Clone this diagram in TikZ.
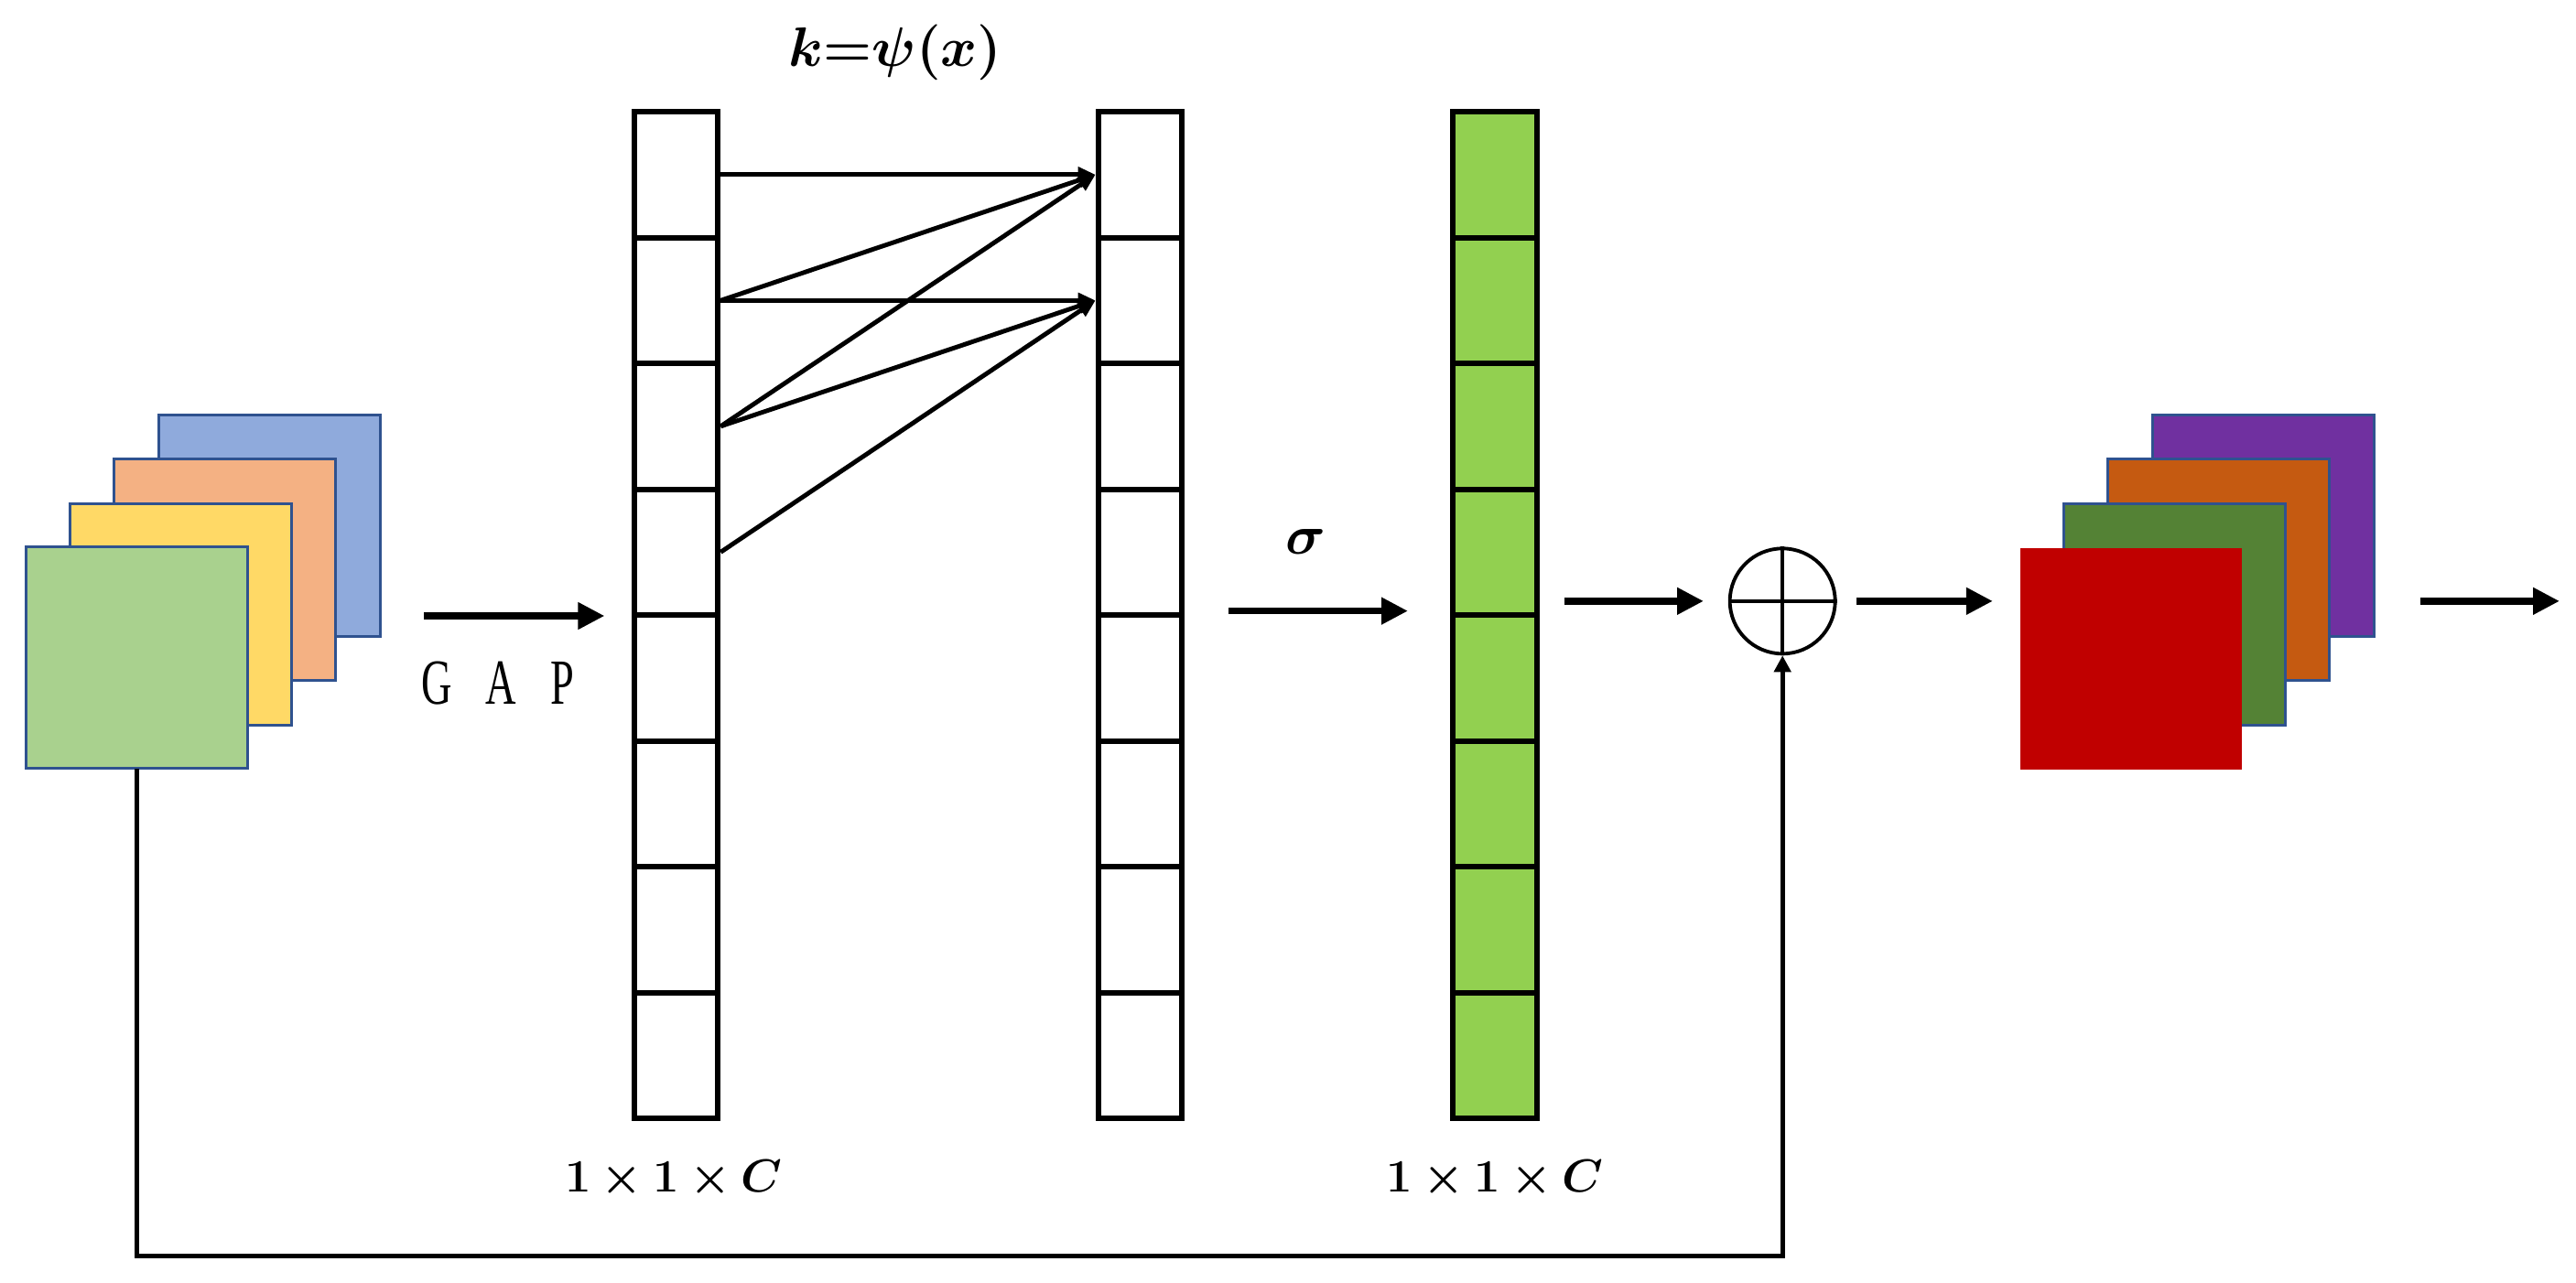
\documentclass[tikz,border=0pt]{standalone}
\usepackage{fontspec}
\usepackage{amsmath}
\usepackage{bm}
\newfontfamily\gapfont{Liberation Serif}
\usetikzlibrary{arrows.meta}
\definecolor{fborder}{HTML}{2F528F}
\definecolor{fblue}{HTML}{8FAADC}
\definecolor{forange}{HTML}{F4B183}
\definecolor{fyellow}{HTML}{FFD966}
\definecolor{fgreen}{HTML}{A9D18E}
\definecolor{cgreen}{HTML}{92D050}
\definecolor{opurple}{HTML}{7030A0}
\definecolor{oorange}{HTML}{C55A11}
\definecolor{ogreen}{HTML}{548235}
\definecolor{ored}{HTML}{C00000}
\begin{document}
\begin{tikzpicture}[x=0.017946cm,y=-0.017946cm,
  fmap/.style={draw=fborder, line width=0.9pt, minimum width=2.42cm, minimum height=2.42cm, inner sep=0pt, outer sep=0pt},
  cell/.style={draw=black, line width=1.7pt, minimum width=0.915cm, minimum height=1.375cm, inner sep=0pt},
  bigarrow/.style={line width=2.2pt, -{Triangle[length=0.29cm,width=0.28cm]}},
  fan/.style={line width=1.4pt, -{Triangle[length=0.19cm,width=0.16cm]}},
  lbl/.style={inner sep=0pt, font=\fontsize{15}{17}\selectfont}]
\useasboundingbox (0,0) rectangle (1568,781);
% input feature maps
\node[fmap, fill=fblue] (in4) at (164,320) {};
\node[fmap, fill=forange] (in3) at (137,347) {};
\node[fmap, fill=fyellow] (in2) at (110,374) {};
\node[fmap, fill=fgreen] (in1) at (83.5,400.5) {};
% GAP arrow
\coordinate (gapS) at (258,375);
\coordinate (gapE) at (368,375);
\draw[bigarrow] (gapS) -- (gapE);
\node[inner sep=0pt, font=\gapfont\fontsize{20}{22}\selectfont] (gap) at (303,416) {\scalebox{0.66}[1]{G\hspace{0.8em}A\hspace{0.8em}P}};
% columns
\foreach \i in {1,...,8} {
  \node[cell] (a\i) at (411.5, {68+76.625*(\i-0.5)}) {};
  \node[cell] (b\i) at (694, {68+76.625*(\i-0.5)}) {};
  \node[cell, fill=cgreen] (c\i) at (910, {68+76.625*(\i-0.5)}) {};
}
% fan arrows
\draw[fan] (a1.east) -- (b1.west);
\draw[fan] (a2.east) -- (b1.west);
\draw[fan] (a2.east) -- (b2.west);
\draw[fan] (a3.east) -- (b1.west);
\draw[fan] (a3.east) -- (b2.west);
\draw[fan] (a4.east) -- (b2.west);
\node[lbl, font=\fontsize{16}{18}\selectfont] (kpsi) at (545,32) {$\bm{k{=}\psi(x)}$};
% sigma
\node[lbl, font=\fontsize{17}{19}\selectfont] (sig) at (795,330) {$\bm{\sigma}$};
\coordinate (sigS) at (748,372);
\coordinate (sigE) at (857,372);
\draw[bigarrow] (sigS) -- (sigE);
% labels under columns
\node[lbl] (dim1) at (410,718) {$\bm{1\times 1\times C}$};
\node[lbl] (dim2) at (910,718) {$\bm{1\times 1\times C}$};
% plus
\node[draw, circle, line width=1.1pt, minimum size=1.15cm, inner sep=0pt] (plus) at (1085,366) {};
\draw[line width=1.1pt] (plus.north) -- (plus.south) (plus.west) -- (plus.east);
\coordinate (cS) at (952,366);
\coordinate (cE) at (1037,366);
\draw[bigarrow] (cS) -- (cE);
\coordinate (pS) at (1130,366);
\coordinate (pE) at (1213,366);
\draw[bigarrow] (pS) -- (pE);
% output maps
\node[fmap, fill=opurple] (out4) at (1377.5,320) {};
\node[fmap, fill=oorange] (out3) at (1350.5,347) {};
\node[fmap, fill=ogreen] (out2) at (1323.5,374) {};
\node[fmap, draw=none, fill=ored] (out1) at (1297,401) {};
\coordinate (fS) at (1473,366);
\coordinate (fE) at (1558,366);
\draw[bigarrow] (fS) -- (fE);
% skip connection
\coordinate (bot) at (600,765);
\draw[line width=1.4pt, -{Triangle[length=0.18cm,width=0.18cm]}] (in1.south) |- (bot) -| (plus.south);
\end{tikzpicture}
\end{document}
